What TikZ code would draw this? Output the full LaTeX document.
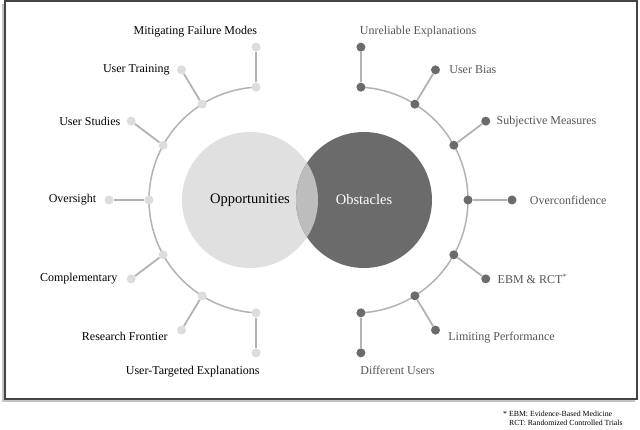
\documentclass[tikz,border=0pt]{standalone}
\usepackage{fontspec}
\setmainfont{Liberation Serif}
\usetikzlibrary{positioning}
\definecolor{oppfill}{HTML}{E0E0E0}
\definecolor{obsfill}{HTML}{6B6B6B}
\definecolor{mixfill}{HTML}{BDBDBD}
\definecolor{linegrey}{HTML}{B3B3B3}
\definecolor{oppdot}{HTML}{DDDDDD}
\definecolor{obstext}{HTML}{555555}
\definecolor{framegrey}{HTML}{444444}
\definecolor{shadegrey}{HTML}{C4C4C4}

\begin{document}
\begin{tikzpicture}[x=1pt, y=1pt,
    odot/.style={circle, fill=oppdot, minimum size=9pt, inner sep=0pt},
    xdot/.style={circle, fill=obsfill, minimum size=9pt, inner sep=0pt},
    rim/.style={draw=linegrey, line width=1.5pt},
    twig/.style={draw=linegrey, line width=1.8pt},
    olbl/.style={inner sep=0pt, font=\fontsize{12}{14}\selectfont},
    xlbl/.style={olbl, text=obstext},
    bigc/.style={circle, minimum size=136pt, inner sep=0pt, font=\fontsize{14.5}{17}\selectfont}]
    \useasboundingbox (0,0) rectangle (640,430);
    % frame with its shadow
    \fill[shadegrey] (2,28) rectangle (635,426);
    \draw[framegrey, fill=white, line width=1.2pt] (5,31) rectangle (637,429);
    % the two circles
    \node[bigc, fill=oppfill] (opp) at (250,230) {Opportunities};
    \node[bigc, fill=obsfill, text=white] (obs) at (364,230) {Obstacles};
    \begin{scope}
        \clip (opp.center) circle (68pt);
        \fill[mixfill] (obs.center) circle (68pt);
    \end{scope}
    \coordinate (L) at (262,230);
    \coordinate (R) at (355,230);
    \draw[rim] (L) ++(93:113pt) arc[start angle=93, end angle=267, radius=113pt];
    \draw[rim] (R) ++(87:113pt) arc[start angle=87, end angle=-87, radius=113pt];
    % opportunities
    \path (L) ++(93:113pt) node[odot] (amfm) {} ++(90:40pt) node[odot] (mfm) {};
    \path (L) ++(122:113pt) node[odot] (aut) {} ++(121:40pt) node[odot] (ut) {};
    \path (L) ++(151:113pt) node[odot] (aus) {} ++(143:40pt) node[odot] (us) {};
    \path (L) ++(180:113pt) node[odot] (aov) {} ++(180:40pt) node[odot] (ov) {};
    \path (L) ++(209:113pt) node[odot] (aco) {} ++(217:40pt) node[odot] (co) {};
    \path (L) ++(238:113pt) node[odot] (arf) {} ++(239:40pt) node[odot] (rf) {};
    \path (L) ++(267:113pt) node[odot] (aute) {} ++(270:40pt) node[odot] (ute) {};
    \draw[twig] (amfm) -- (mfm);
    \draw[twig] (aut) -- (ut);
    \draw[twig] (aus) -- (us);
    \draw[twig] (aov) -- (ov);
    \draw[twig] (aco) -- (co);
    \draw[twig] (arf) -- (rf);
    \draw[twig] (aute) -- (ute);
    \node[olbl, above left=7pt and -4.5pt of mfm] (tmfm) {Mitigating Failure Modes};
    \node[olbl, left=7pt of ut] (tut) {User Training};
    \node[olbl, left=6pt of us] (tus) {User Studies};
    \node[olbl, left=8pt of ov] (tov) {Oversight};
    \node[olbl, left=9pt of co] (tco) {Complementary};
    \node[olbl, left=9pt of rf, yshift=-6pt] (trf) {Research Frontier};
    \node[olbl, below left=10pt and -7pt of ute] (tute) {User-Targeted Explanations};
    % obstacles
    \path (R) ++(87:113pt) node[xdot] (aue) {} ++(90:40pt) node[xdot] (ue) {};
    \path (R) ++(58:113pt) node[xdot] (aub) {} ++(59:40pt) node[xdot] (ub) {};
    \path (R) ++(29:113pt) node[xdot] (asm) {} ++(37:40pt) node[xdot] (sm) {};
    \path (R) ++(0:113pt) node[xdot] (aoc) {} ++(0:44pt) node[xdot] (oc) {};
    \path (R) ++(-29:113pt) node[xdot] (aebm) {} ++(-37:40pt) node[xdot] (ebm) {};
    \path (R) ++(-58:113pt) node[xdot] (alp) {} ++(-59:40pt) node[xdot] (lp) {};
    \path (R) ++(-87:113pt) node[xdot] (adu) {} ++(-90:40pt) node[xdot] (du) {};
    \draw[twig] (aue) -- (ue);
    \draw[twig] (aub) -- (ub);
    \draw[twig] (asm) -- (sm);
    \draw[twig] (aoc) -- (oc);
    \draw[twig] (aebm) -- (ebm);
    \draw[twig] (alp) -- (lp);
    \draw[twig] (adu) -- (du);
    \node[xlbl, above right=7pt and -4.5pt of ue] (tue) {Unreliable Explanations};
    \node[xlbl, right=9pt of ub] (tub) {User Bias};
    \node[xlbl, right=6pt of sm] (tsm) {Subjective Measures};
    \node[xlbl, right=13pt of oc] (toc) {Overconfidence};
    \node[xlbl, right=7pt of ebm] (tebm) {EBM \& RCT\textsuperscript{*}};
    \node[xlbl, right=8pt of lp, yshift=-7pt] (tlp) {Limiting Performance};
    \node[xlbl, below right=10pt and -4pt of du] (tdu) {Different Users};
    % footnote
    \node[inner sep=0pt, anchor=west, align=left, font=\fontsize{7.8}{9.5}\selectfont] (note) at (503,11.5)
        {* EBM: Evidence-Based Medicine\\\phantom{* }RCT: Randomized Controlled Trials};
\end{tikzpicture}
\end{document}
